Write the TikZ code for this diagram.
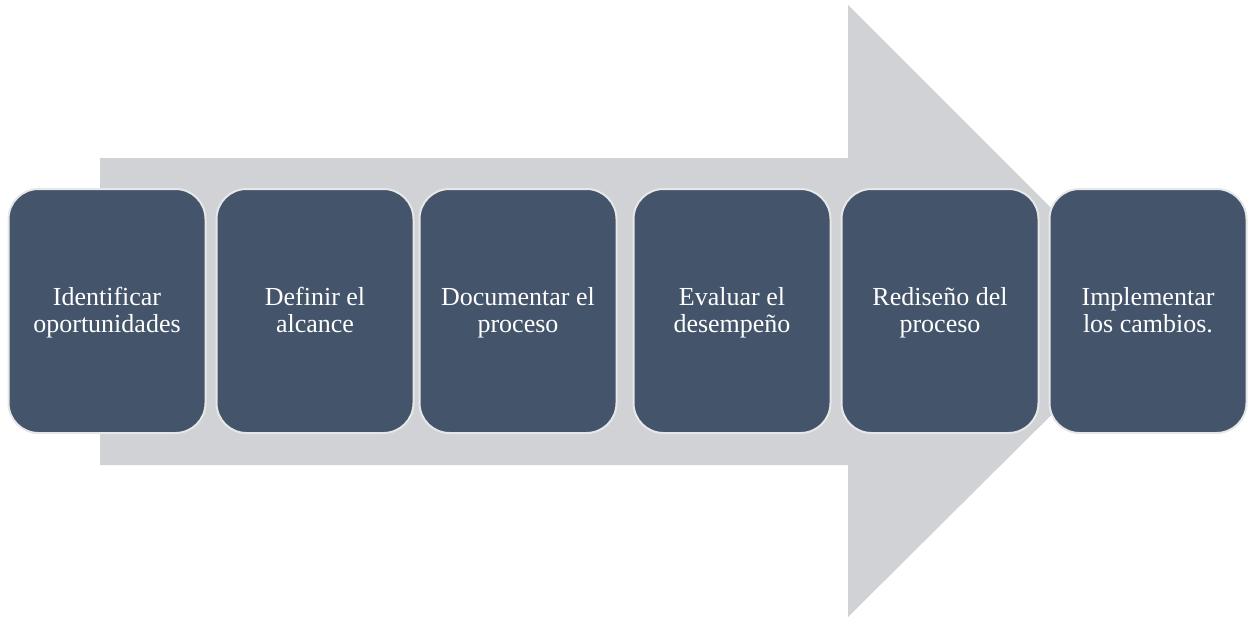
\documentclass[tikz,border=0pt]{standalone}
\usepackage{fontspec}
\setmainfont{Liberation Serif}
\usetikzlibrary{positioning}
\definecolor{arrowgrey}{HTML}{D0D2D6}
\definecolor{boxfill}{HTML}{44546A}
\definecolor{boxline}{HTML}{E6E7E8}

\begin{document}
\begin{tikzpicture}[x=1pt, y=-1pt,
				stage/.style={rectangle, rounded corners=30pt, fill=boxfill, draw=boxline, line width=2pt, minimum width=197pt, minimum height=244pt, text=white, align=center, font=\fontsize{26}{27}\selectfont, inner sep=0pt, text height=50pt, text depth=8pt}
			]
			\useasboundingbox (0,0) rectangle (1251,618);
			% big arrow behind the stages
			\fill[arrowgrey] (100,158) -- (848,158) -- (848,5) -- (1155,312) -- (848,617) -- (848,465) -- (100,465) -- cycle;
			\node[stage] (ident) at (107,311) {Identificar\\oportunidades};
			\node[stage] (alcance) [right=9pt of ident] {Definir el\\alcance};
			\node[stage] (docu) [right=4pt of alcance] {Documentar el\\proceso};
			\node[stage] (evaluar) [right=15pt of docu] {Evaluar el\\desempeño};
			\node[stage] (redis) [right=9pt of evaluar] {Rediseño del\\proceso};
			\node[stage] (implem) [right=9pt of redis] {Implementar\\los cambios.};
			\end{tikzpicture}
\end{document}
